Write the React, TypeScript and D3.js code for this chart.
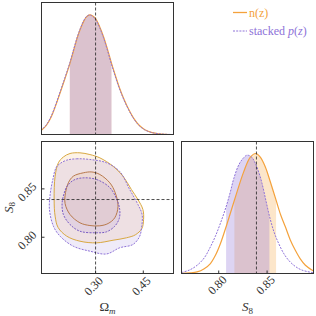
import React from 'react';
import * as d3 from 'd3';

// truth values (dashed markers)
const omTrue = 0.3;
const s8True = 0.839;

const omTicks = [0.3, 0.45];
const s8Ticks = [0.8, 0.85];

// 1D marginal of Omega_m: [Omega_m, density]
const omNz: [number, number][] = [
  [0.128, 0.03], [0.145, 0.075], [0.16, 0.144], [0.175, 0.245], [0.191, 0.367], [0.205, 0.475],
  [0.219, 0.589], [0.231, 0.7], [0.243, 0.81], [0.253, 0.885], [0.263, 0.945], [0.272, 0.982],
  [0.282, 0.997], [0.29, 0.99], [0.3, 0.966], [0.3125, 0.9], [0.325, 0.815], [0.3375, 0.71],
  [0.35, 0.595], [0.3625, 0.49], [0.375, 0.39], [0.39, 0.29], [0.406, 0.2], [0.42, 0.135],
  [0.437, 0.077], [0.455, 0.04], [0.478, 0.016], [0.5, 0.006], [0.52, 0.002], [0.546, 0.0],
];
const omStacked: [number, number][] = [
  [0.128, 0.034], [0.145, 0.08], [0.16, 0.15], [0.175, 0.252], [0.191, 0.375], [0.205, 0.485],
  [0.219, 0.598], [0.231, 0.71], [0.243, 0.817], [0.253, 0.89], [0.263, 0.95], [0.272, 0.985],
  [0.282, 0.996], [0.29, 0.986], [0.3, 0.96], [0.3125, 0.892], [0.325, 0.806], [0.3375, 0.7],
  [0.35, 0.585], [0.3625, 0.48], [0.375, 0.382], [0.39, 0.283], [0.406, 0.195], [0.42, 0.131],
  [0.437, 0.075], [0.455, 0.038], [0.478, 0.015], [0.5, 0.006], [0.52, 0.002], [0.546, 0.0],
];
const omNzBand = [0.219, 0.35];
const omStackedBand = [0.219, 0.35];

// 1D marginal of S8: [S8, density]
const s8Nz: [number, number][] = [
  [0.7615, 0.002], [0.77, 0.005], [0.7777, 0.013], [0.785, 0.04], [0.7914, 0.083], [0.7965, 0.15],
  [0.8018, 0.25], [0.8087, 0.417], [0.8162, 0.61], [0.8258, 0.847], [0.8327, 0.97], [0.8384, 1.0],
  [0.843, 0.97], [0.8482, 0.888], [0.8535, 0.76], [0.8593, 0.611], [0.864, 0.49], [0.8689, 0.389],
  [0.874, 0.28], [0.8792, 0.194], [0.8845, 0.12], [0.8896, 0.069], [0.8985, 0.018],
];
const s8Stacked: [number, number][] = [
  [0.7615, 0.008], [0.77, 0.03], [0.7777, 0.069], [0.785, 0.13], [0.7914, 0.222], [0.7965, 0.31],
  [0.8018, 0.42], [0.8076, 0.556], [0.812, 0.68], [0.8155, 0.79], [0.821, 0.91], [0.8258, 0.965],
  [0.8293, 0.986], [0.834, 0.97], [0.8379, 0.917], [0.842, 0.83], [0.8448, 0.75], [0.849, 0.6],
  [0.8524, 0.48], [0.857, 0.35], [0.862, 0.25], [0.867, 0.17], [0.8723, 0.11], [0.879, 0.06],
  [0.8862, 0.028], [0.8985, 0.005],
];
const s8NzBand = [0.8162, 0.8593];
const s8StackedBand = [0.8076, 0.8524];

// 2D contours: [Omega_m, S8]
const nz95: [number, number][] = [
  [0.2197, 0.8866], [0.2509, 0.8873], [0.2822, 0.8855], [0.3134, 0.8821], [0.355, 0.8734],
  [0.3863, 0.8631], [0.4125, 0.8494], [0.4331, 0.839], [0.4488, 0.8287], [0.4509, 0.8183],
  [0.4455, 0.809], [0.425, 0.8025], [0.3969, 0.7994], [0.355, 0.7969], [0.3031, 0.7942],
  [0.2509, 0.7959], [0.2094, 0.8011], [0.1822, 0.8101], [0.1728, 0.8218], [0.1697, 0.839],
  [0.1728, 0.8631], [0.1831, 0.877], [0.1988, 0.883],
];
const nz68: [number, number][] = [
  [0.2613, 0.8666], [0.2884, 0.8675], [0.3134, 0.8649], [0.3447, 0.8563], [0.3619, 0.8459],
  [0.3706, 0.8321], [0.3603, 0.8201], [0.3394, 0.8142], [0.3134, 0.8118], [0.2822, 0.8121],
  [0.2509, 0.8149], [0.2197, 0.8235], [0.2041, 0.8349], [0.2056, 0.8463], [0.2144, 0.8563],
  [0.23, 0.8631],
];
const stacked95: [number, number][] = [
  [0.2094, 0.8797], [0.2406, 0.8811], [0.2822, 0.8804], [0.3344, 0.877], [0.3759, 0.868],
  [0.4072, 0.8494], [0.4331, 0.8339], [0.4463, 0.8235], [0.4447, 0.8101], [0.4384, 0.8008],
  [0.4175, 0.7925], [0.3759, 0.7891], [0.3344, 0.7827], [0.2822, 0.7856], [0.23, 0.7907],
  [0.1884, 0.8011], [0.1675, 0.8114], [0.155, 0.8287], [0.1572, 0.8442], [0.1656, 0.8597],
  [0.1759, 0.872], [0.1884, 0.8762],
];
const stacked68: [number, number][] = [
  [0.2613, 0.8614], [0.3031, 0.8597], [0.3447, 0.8514], [0.3656, 0.84], [0.3759, 0.8287],
  [0.3744, 0.8194], [0.3603, 0.8114], [0.3344, 0.8056], [0.3031, 0.8046], [0.2509, 0.8062],
  [0.2197, 0.8132], [0.1988, 0.8235], [0.1947, 0.8349], [0.2009, 0.8452], [0.2119, 0.8535],
  [0.2322, 0.8592],
];

const ORANGE = '#f4a23c';
const PURPLE = '#8e72d8';
const FRAME = '#333';
const FONT = 'Liberation Serif';

// tick label tilted by 45 degrees, centred on (cx, cy); glyphs laid out along the diagonal
const Tilted = ({ cx, cy, text }: { cx: number; cy: number; text: string }) => {
  const fs = 12;
  const c = Math.SQRT1_2;
  const adv = text.split('').map(ch => (ch === '.' ? 0.25 : 0.5) * fs);
  const total = d3.sum(adv);
  const xs: number[] = [];
  const ys: number[] = [];
  let a = -total / 2;
  adv.forEach(w => {
    // baseline sits 4px "below" the centre, in the tilted frame
    xs.push(cx + 4 * c + a * c);
    ys.push(cy + 4 * c - a * c);
    a += w;
  });
  return (
    <text x={xs.join(' ')} y={ys.join(' ')} rotate={text.split('').map(() => -45).join(' ')}
      fontSize={fs} fill="#333">{text}</text>
  );
};

const App = () => {
  const W = 316;
  const H = 316;
  // panel frames
  const tl = { x0: 41.5, x1: 173.5, y0: 2.5, y1: 134.5 };
  const bl = { x0: 41.5, x1: 173.5, y0: 141.5, y1: 273.5 };
  const br = { x0: 181.5, x1: 313.5, y0: 141.5, y1: 273.5 };

  const xOm = d3.scaleLinear().domain([0.13, 0.545]).range([tl.x0, tl.x1]);
  const yS8 = d3.scaleLinear().domain([0.7625, 0.899]).range([bl.y1, bl.y0]);
  const xS8 = d3.scaleLinear().domain([0.7615, 0.898]).range([br.x0, br.x1]);
  const yTop = d3.scaleLinear().domain([0, 1.1]).range([tl.y1, tl.y0]);
  const yBr = d3.scaleLinear().domain([0, 1.1]).range([br.y1, br.y0]);
  const fmt = d3.format('.2f');

  const lineOm = d3.line<[number, number]>().x(d => xOm(d[0])).y(d => yTop(d[1])).curve(d3.curveCatmullRom);
  const areaOm = d3.area<[number, number]>().x(d => xOm(d[0])).y0(yTop(0)).y1(d => yTop(d[1])).curve(d3.curveCatmullRom);
  const lineS8 = d3.line<[number, number]>().x(d => xS8(d[0])).y(d => yBr(d[1])).curve(d3.curveCatmullRom);
  const areaS8 = d3.area<[number, number]>().x(d => xS8(d[0])).y0(yBr(0)).y1(d => yBr(d[1])).curve(d3.curveCatmullRom);
  const contour = d3.line<[number, number]>().x(d => xOm(d[0])).y(d => yS8(d[1])).curve(d3.curveCatmullRomClosed);

  const rect = (p: any) => ({ x: p.x0, y: p.y0, width: p.x1 - p.x0, height: p.y1 - p.y0 });
  const dash = { stroke: '#222', strokeWidth: 0.8, strokeDasharray: '3,2' };

  return (
    <svg width={W} height={H} style={{ position: 'absolute', left: 0, top: 0, background: '#fff' }}
      fontFamily={FONT}>
      <defs>
        <clipPath id="clipTL"><rect {...rect(tl)} /></clipPath>
        <clipPath id="clipBL"><rect {...rect(bl)} /></clipPath>
        <clipPath id="clipBR"><rect {...rect(br)} /></clipPath>
        <clipPath id="bandOmNz"><rect x={xOm(omNzBand[0])} y={0} width={xOm(omNzBand[1]) - xOm(omNzBand[0])} height={H} /></clipPath>
        <clipPath id="bandOmSt"><rect x={xOm(omStackedBand[0])} y={0} width={xOm(omStackedBand[1]) - xOm(omStackedBand[0])} height={H} /></clipPath>
        <clipPath id="bandS8Nz"><rect x={xS8(s8NzBand[0])} y={0} width={xS8(s8NzBand[1]) - xS8(s8NzBand[0])} height={H} /></clipPath>
        <clipPath id="bandS8St"><rect x={xS8(s8StackedBand[0])} y={0} width={xS8(s8StackedBand[1]) - xS8(s8StackedBand[0])} height={H} /></clipPath>
      </defs>

      {/* top-left: Omega_m marginal */}
      <g clipPath="url(#clipTL)">
        <g clipPath="url(#bandOmNz)"><path d={areaOm(omNz) || ''} fill={ORANGE} fillOpacity={0.27} /></g>
        <g clipPath="url(#bandOmSt)"><path d={areaOm(omStacked) || ''} fill={PURPLE} fillOpacity={0.3} /></g>
        <path d={lineOm(omNz) || ''} fill="none" stroke={ORANGE} strokeWidth={1.2} />
        <path d={lineOm(omStacked) || ''} fill="none" stroke={PURPLE} strokeWidth={1} strokeDasharray="2,1.2" />
        <line x1={xOm(omTrue)} x2={xOm(omTrue)} y1={tl.y0} y2={tl.y1} {...dash} />
      </g>
      <rect {...rect(tl)} fill="none" stroke={FRAME} strokeWidth={1} />

      {/* bottom-left: 2D contours */}
      <g clipPath="url(#clipBL)">
        <path d={contour(nz95) || ''} fill={ORANGE} fillOpacity={0.13} />
        <path d={contour(nz68) || ''} fill={ORANGE} fillOpacity={0.1} />
        <path d={contour(stacked95) || ''} fill={PURPLE} fillOpacity={0.14} />
        <path d={contour(stacked68) || ''} fill={PURPLE} fillOpacity={0.12} />
        <path d={contour(nz95) || ''} fill="none" stroke="#d8a842" strokeWidth={1} />
        <path d={contour(nz68) || ''} fill="none" stroke="#b8794c" strokeWidth={1} />
        <path d={contour(stacked95) || ''} fill="none" stroke={PURPLE} strokeWidth={1} strokeDasharray="2,1.2" />
        <path d={contour(stacked68) || ''} fill="none" stroke="#7a5cc4" strokeWidth={1} strokeDasharray="2,1.2" />
        <line x1={xOm(omTrue)} x2={xOm(omTrue)} y1={bl.y0} y2={bl.y1} {...dash} />
        <line x1={bl.x0} x2={bl.x1} y1={yS8(s8True)} y2={yS8(s8True)} {...dash} />
      </g>
      <rect {...rect(bl)} fill="none" stroke={FRAME} strokeWidth={1} />
      {omTicks.map(t => (
        <g key={'ox' + t}>
          <line x1={xOm(t)} x2={xOm(t)} y1={bl.y1} y2={bl.y1 - 3} stroke={FRAME} />
          <Tilted cx={xOm(t) - 2} cy={286} text={fmt(t)} />
        </g>
      ))}
      {s8Ticks.map(t => (
        <g key={'sy' + t}>
          <line x1={bl.x0} x2={bl.x0 + 3} y1={yS8(t)} y2={yS8(t)} stroke={FRAME} />
          <Tilted cx={27} cy={yS8(t) + 3} text={fmt(t)} />
        </g>
      ))}
      <text x={(bl.x0 + bl.x1) / 2} y={311} textAnchor="middle" fontSize={13} fill="#333">
        Ω<tspan fontStyle="italic" fontSize={9} dy={2.5}>m</tspan>
      </text>
      <text transform={`translate(${12.5},${(bl.y0 + bl.y1) / 2}) rotate(-90)`} textAnchor="middle" fontSize={13} fill="#333">
        <tspan fontStyle="italic">S</tspan><tspan fontSize={9} dy={2.5}>8</tspan>
      </text>

      {/* bottom-right: S8 marginal */}
      <g clipPath="url(#clipBR)">
        <g clipPath="url(#bandS8Nz)"><path d={areaS8(s8Nz) || ''} fill={ORANGE} fillOpacity={0.27} /></g>
        <g clipPath="url(#bandS8St)"><path d={areaS8(s8Stacked) || ''} fill={PURPLE} fillOpacity={0.3} /></g>
        <path d={lineS8(s8Nz) || ''} fill="none" stroke={ORANGE} strokeWidth={1.2} />
        <path d={lineS8(s8Stacked) || ''} fill="none" stroke={PURPLE} strokeWidth={1} strokeDasharray="2,1.2" />
        <line x1={xS8(s8True)} x2={xS8(s8True)} y1={br.y0} y2={br.y1} {...dash} />
      </g>
      <rect {...rect(br)} fill="none" stroke={FRAME} strokeWidth={1} />
      {s8Ticks.map(t => (
        <g key={'sx' + t}>
          <line x1={xS8(t)} x2={xS8(t)} y1={br.y1} y2={br.y1 - 3} stroke={FRAME} />
          <Tilted cx={xS8(t) - 1.5} cy={285} text={fmt(t)} />
        </g>
      ))}
      <text x={(br.x0 + br.x1) / 2} y={311} textAnchor="middle" fontSize={13} fill="#333">
        <tspan fontStyle="italic">S</tspan><tspan fontSize={9} dy={2.5}>8</tspan>
      </text>

      {/* legend */}
      <line x1={233} x2={247} y1={12.5} y2={12.5} stroke={ORANGE} strokeWidth={1.3} />
      <text x={249} y={16.5} fontSize={12} fill={ORANGE}>n(z)</text>
      <line x1={233} x2={247} y1={31} y2={31} stroke={PURPLE} strokeWidth={1} strokeDasharray="2,1.2" />
      <text x={249} y={35} fontSize={12} fill={PURPLE}>
        stacked <tspan fontStyle="italic">p</tspan>(<tspan fontStyle="italic">z</tspan>)
      </text>
    </svg>
  );
};

export default App;
